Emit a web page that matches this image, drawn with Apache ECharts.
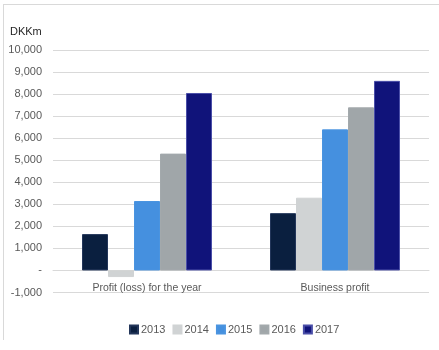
<!DOCTYPE html>
<html>
<head>
<meta charset="utf-8">
<script src="https://cdn.jsdelivr.net/npm/echarts@6/dist/echarts.min.js"></script>
<style>
  html, body { margin: 0; padding: 0; background: #fff; }
  #chart { width: 439px; height: 350px; }
</style>
</head>
<body>
<div id="chart"></div>
<script>
// Profit figures in DKK million, per metric and year
const categories = ['Profit (loss) for the year', 'Business profit'];
const years = ['2013', '2014', '2015', '2016', '2017'];
const values2013 = [1650, 2600];
const values2014 = [-300, 3300];
const values2015 = [3150, 6400];
const values2016 = [5300, 7400];
const values2017 = [8050, 8600];
const yTickMin = -1000;
const yTickMax = 10000;
const yTickStep = 1000;

const seriesValues = [values2013, values2014, values2015, values2016, values2017];
const colors = ['#0A1F3F', '#D0D3D4', '#4590DF', '#A0A6A9', '#10137A'];
const borders = ['#23365A', '#D0D3D4', '#4A94E0', '#A3A9AC', '#4A4EA8'];

const fontFamily = '"Liberation Sans", Arial, sans-serif';

const chart = echarts.init(document.getElementById('chart'), null, { renderer: 'canvas' });

chart.setOption({
  animation: false,
  backgroundColor: '#fff',
  color: colors,
  grid: { left: 53, right: 10, top: 50, bottom: 57.5, containLabel: false },
  graphic: [
    { type: 'line', shape: { x1: 3, y1: 4.5, x2: 439, y2: 4.5 }, style: { stroke: '#d9d9d9', lineWidth: 1 } },
    { type: 'line', shape: { x1: 3.5, y1: 4, x2: 3.5, y2: 340 }, style: { stroke: '#d9d9d9', lineWidth: 1 } },
    { type: 'text', left: 10, top: 26, style: { text: 'DKKm', font: '11px ' + fontFamily, fill: '#262626' } }
  ],
  legend: {
    data: years,
    left: 124,
    top: 319,
    itemWidth: 8,
    itemHeight: 8,
    itemGap: 7,
    icon: 'rect',
    textStyle: { fontFamily: fontFamily, fontSize: 11, color: '#595959', padding: [0, 0, 0, -2] }
  },
  xAxis: {
    type: 'category',
    data: categories,
    axisLine: { onZero: true, lineStyle: { color: '#d9d9d9' } },
    axisTick: { show: false },
    axisLabel: { fontFamily: fontFamily, fontSize: 10.5, color: '#595959', margin: -10 }
  },
  yAxis: {
    type: 'value',
    min: yTickMin,
    max: yTickMax,
    interval: yTickStep,
    axisLine: { show: false },
    axisTick: { show: false },
    splitLine: { lineStyle: { color: '#d9d9d9', width: 1 } },
    axisLabel: {
      fontFamily: fontFamily,
      fontSize: 11,
      color: '#595959',
      margin: 11,
      formatter: v => v === 0 ? '-' : v.toLocaleString('en-US')
    }
  },
  series: years.map((y, i) => ({
    name: y,
    type: 'bar',
    data: seriesValues[i],
    barWidth: 26,
    barGap: '0%',
    itemStyle: { color: colors[i], borderColor: borders[i], borderWidth: 1 }
  }))
});
</script>
</body>
</html>
